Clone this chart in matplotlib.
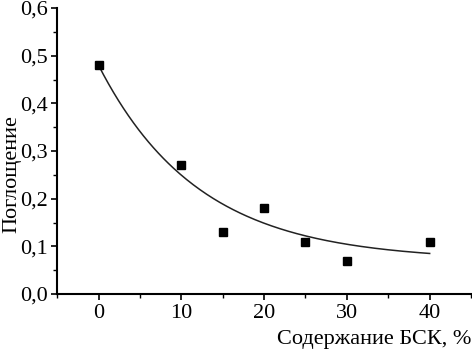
import numpy as np
import matplotlib.pyplot as plt
from matplotlib.ticker import FuncFormatter, MultipleLocator

# --- Dados ---
bsk = [0, 10, 15, 20, 25, 30, 40]
absorcao = [0.48, 0.27, 0.13, 0.18, 0.11, 0.07, 0.11]

# parâmetros do ajuste exponencial y = y0 + A*exp(-x/t)
fit_y0 = 0.07
fit_A = 0.41
fit_t = 12.1

plt.rcParams['font.family'] = ['Liberation Serif', 'DejaVu Serif']

fig = plt.figure(figsize=(4.72, 3.57), dpi=100)
ax = fig.add_axes([0.121, 0.1765, 0.877, 0.801])

xs = np.linspace(min(bsk), max(bsk), 200)
ax.plot(xs, fit_y0 + fit_A * np.exp(-xs / fit_t), color='#222222', lw=1.1)
ax.plot(bsk, absorcao, 's', color='black', ms=6)

ax.set_xlim(-5, 45)
ax.set_ylim(0, 0.6)
ax.xaxis.set_major_locator(MultipleLocator(10))
ax.xaxis.set_minor_locator(MultipleLocator(5))
ax.yaxis.set_major_locator(MultipleLocator(0.1))
ax.yaxis.set_minor_locator(MultipleLocator(0.05))
ax.yaxis.set_major_formatter(FuncFormatter(lambda v, p: f"{v:.1f}".replace('.', ',')))

for s in ['top', 'right']:
    ax.spines[s].set_visible(False)
for s in ['left', 'bottom']:
    ax.spines[s].set_linewidth(1.5)

ax.tick_params(axis='both', which='major', direction='out', length=4, width=1.2, labelsize=16, pad=3)
ax.tick_params(axis='both', which='minor', direction='out', length=3, width=1.0)

ax.set_ylabel('Поглощение', fontsize=16)
ax.yaxis.set_label_coords(-0.133, 0.42)
ax.yaxis.label.set_va('top')
ax.set_xlabel('Содержание БСК, %', fontsize=16, ha='right')
ax.xaxis.set_label_coords(1.0, -0.125)

plt.savefig('out.png', dpi=100)
